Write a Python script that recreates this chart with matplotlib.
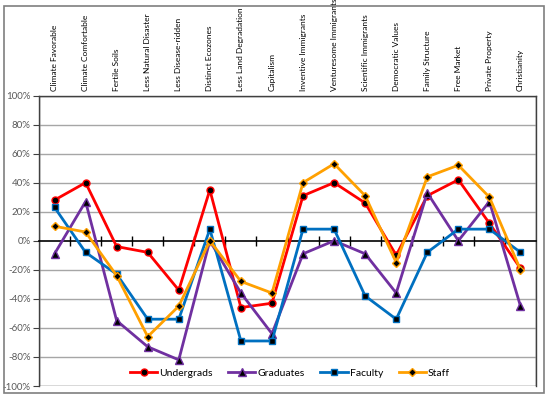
import matplotlib
matplotlib.use("Agg")
import matplotlib.pyplot as plt
import numpy as np
from matplotlib.patches import Rectangle
from matplotlib.ticker import FuncFormatter

categories = ["Climate Favorable", "Climate Comfortable", "Fertile Soils", "Less Natural Disaster",
              "Less Disease-ridden", "Distinct Ecozones", "Less Land Degradation", "Capitalism",
              "Inventive Immigrants", "Venturesome Immigrants", "Scientific Immigrants",
              "Democratic Values", "Family Structure", "Free Market", "Private Property", "Christianity"]

undergrads = [28, 40, -4, -8, -34, 35, -46, -43, 31, 40, 26, -10, 31, 42, 12, -19]
graduates = [-9, 27, -55, -73, -82, 0, -36, -64, -9, 0, -9, -36, 33, 0, 27, -45]
faculty = [23, -8, -23, -54, -54, 8, -69, -69, 8, 8, -38, -54, -8, 8, 8, -8]
staff = [10, 6, -24, -66, -45, 0, -28, -36, 40, 53, 31, -15, 44, 52, 30, -20]

yticks = list(range(-100, 101, 20))

plt.rcParams['font.family'] = ['Lato', 'DejaVu Sans']

fig = plt.figure(figsize=(5.5, 3.98), dpi=100)
# outer chart border
fig.patches.append(Rectangle((4/550, 5/398), 540/550, 387/398, transform=fig.transFigure,
                             fill=False, edgecolor='#7f7f7f', linewidth=1.2))

ax = fig.add_axes([39/550, 1 - 386/398, 497/550, (386 - 95.5)/398])
x = np.arange(1, len(categories) + 1)

series = [
    ("Undergrads", undergrads, '#FF0000', 'o', 5),
    ("Graduates", graduates, '#7030A0', '^', 5.5),
    ("Faculty", faculty, '#0070C0', 's', 5),
    ("Staff", staff, '#FFA000', 'D', 4.2),
]
for name, vals, col, mk, ms in series:
    ax.plot(x, vals, color=col, lw=2, marker=mk, markersize=ms, markerfacecolor='black',
            markeredgecolor=col, markeredgewidth=1.0, label=name, zorder=3)

ax.set_xlim(0.5, len(categories) + 0.5)
ax.set_ylim(-100, 100)
ax.set_yticks(yticks)
ax.yaxis.set_major_formatter(FuncFormatter(lambda v, p: f"{int(v)}%"))
ax.tick_params(axis='y', labelsize=7, labelcolor='#595959', length=4, color='#404040', pad=2)
for v in yticks[1:-1]:
    if v != 0:
        ax.axhline(v, color='#A6A6A6', lw=1, zorder=1)

for s in ['top', 'right', 'left']:
    ax.spines[s].set_color('#404040')
    ax.spines[s].set_linewidth(1)
ax.spines['bottom'].set_position(('data', 0))
ax.spines['bottom'].set_color('black')
ax.spines['bottom'].set_linewidth(1.2)
ax.add_patch(Rectangle((0, 0), 1, 1, transform=ax.transAxes, fill=False,
                       edgecolor='#404040', lw=1, zorder=0.5))

bounds = np.arange(0.5, len(categories) + 1, 1.0)
ax.set_xticks(bounds[1:-1])
ax.set_xticklabels([])
ax.tick_params(axis='x', direction='inout', length=7, color='black', width=1)

sec = ax.secondary_xaxis('top')
sec.set_xticks(x)
sec.set_xticklabels(categories, rotation=90, fontsize=6)
sec.tick_params(length=0, pad=3)
sec.spines['top'].set_visible(False)

ax.legend(loc='lower center', bbox_to_anchor=(0.505, -0.005), ncol=4, frameon=False,
          fontsize=7.5, handlelength=2.6, columnspacing=1.5, handletextpad=0.2)

fig.savefig("out.png", dpi=100)
